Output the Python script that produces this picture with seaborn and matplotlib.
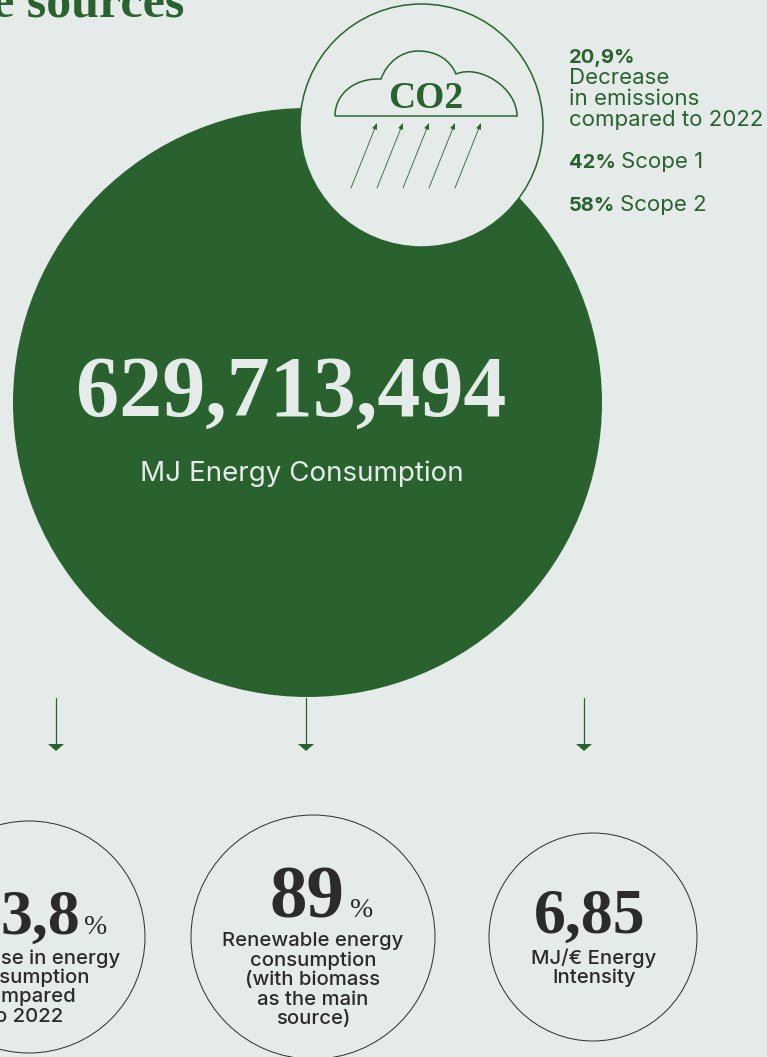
import matplotlib
matplotlib.use("Agg")
import matplotlib.pyplot as plt
import pandas as pd
import seaborn as sns
from matplotlib.patches import PathPatch
from matplotlib.path import Path

BG = "#E5EBE9"
GREEN = "#2A622F"
DARK = "#2B2B2B"
SANS = "Inter"
SERIF = "Liberation Serif"

# text content
TITLE = "e sources"
TOTAL_VALUE = "629,713,494"
TOTAL_LABEL = "MJ Energy Consumption"
ICON_LABEL = "CO2"
EMISSION_VALUE = "20,9%"
EMISSION_LINES = ["Decrease", "in emissions", "compared to 2022"]
SCOPE_SHARES = ["42%", "58%"]
SCOPE_NAMES = ["Scope 1", "Scope 2"]
METRIC_VALUES = ["3,8", "89", "6,85"]
METRIC_UNITS = ["%", "%", ""]
METRIC_LINES = [
    ["Decrease in energy", "consumption", "compared", "to 2022"],
    ["Renewable energy", "consumption", "(with biomass", "as the main", "source)"],
    ["MJ/€ Energy", "Intensity"],
]

# layout, in pixels of the 767x1057 canvas
filled = pd.DataFrame({"x": [307], "y": [401.5], "r": [294.5]})
outlined = pd.DataFrame({"x": [29, 313, 593], "y": [937, 937, 937], "r": [116, 122, 104]})
icon_circle = pd.DataFrame({"x": [420.5], "y": [125], "r": [121.5]})
ARROW_X = [56, 306, 584]
RAY_X = [351, 377, 403, 429, 455]
VALUE_RIGHT = [80, 344, 645]
VALUE_BASE = [934, 917, 933]
VALUE_SIZE = [46, 54, 46]
UNIT_LEFT = [84, 350, None]
TEXT_CENTER = [26, 313, 594]
LINE_BASES = [
    [964, 983, 1002, 1022],
    [946, 966, 985, 1005, 1024],
    [964, 983],
]


def marker_size(r):
    # scatter sizes are squared points, the radius is in pixels at dpi 100
    return (2 * r * 0.72) ** 2


def draw_circles(ax, df, face, edge, lw):
    sns.scatterplot(
        data=df, x="x", y="y", size="r", sizes={r: marker_size(r) for r in df["r"]},
        color=face, edgecolor=edge, linewidth=lw, legend=False, ax=ax, zorder=2,
    )


def draw_cloud(ax):
    verts = [
        (335, 116), (335, 95), (353, 78), (381, 79),
        (387, 62), (402, 51), (418, 51),
        (437, 51), (450, 60), (456, 74),
        (480, 64), (517, 88), (517, 116),
        (335, 116),
    ]
    codes = [Path.MOVETO] + [Path.CURVE4] * 12 + [Path.LINETO]
    ax.add_patch(PathPatch(Path(verts, codes), fill=False, edgecolor=GREEN, lw=1.1, zorder=4))
    for x in RAY_X:
        ax.annotate(
            "", xy=(x + 26, 123), xytext=(x, 188), zorder=4,
            arrowprops=dict(arrowstyle="-|>,head_length=0.3,head_width=0.12", color=GREEN,
                            lw=0.6, shrinkA=0, shrinkB=0),
        )


def draw_down_arrows(ax):
    for x in ARROW_X:
        ax.plot([x, x], [698, 744], color=GREEN, lw=0.9, zorder=3)
        ax.fill([x - 8, x + 8, x], [744, 744, 751], color=GREEN, lw=0, zorder=3)


def main():
    sns.set_theme(style="white")
    plt.rcParams["font.family"] = [SANS, "DejaVu Sans"]

    fig = plt.figure(figsize=(7.67, 10.57), dpi=100, facecolor=BG)
    ax = fig.add_axes([0, 0, 1, 1], facecolor=BG)

    draw_circles(ax, filled, GREEN, GREEN, 0)
    draw_circles(ax, icon_circle, BG, GREEN, 1.1)
    draw_circles(ax, outlined, "none", DARK, 0.7)
    draw_cloud(ax)
    draw_down_arrows(ax)

    ax.set_xlim(0, 767)
    ax.set_ylim(1057, 0)
    ax.axis("off")

    ax.text(184, 17, TITLE, ha="right", va="baseline", family=SERIF, weight="bold", fontsize=36, color=GREEN)
    ax.text(291, 416, TOTAL_VALUE, ha="center", va="baseline", family=SERIF, weight="bold", fontsize=62, color=BG, zorder=5)
    ax.text(302, 481, TOTAL_LABEL, ha="center", va="baseline", fontsize=20, color=BG, zorder=5)
    ax.text(426, 107.5, ICON_LABEL, ha="center", va="baseline", family=SERIF, weight="bold", fontsize=27, color=GREEN, zorder=5)

    ax.text(569, 63, EMISSION_VALUE, va="baseline", weight="bold", fontsize=14.5, color=GREEN)
    for line, y in zip(EMISSION_LINES, [84, 105, 126]):
        ax.text(569, y, line, va="baseline", fontsize=16, color=GREEN)
    for share, name, y, x in zip(SCOPE_SHARES, SCOPE_NAMES, [168, 211], [621, 620]):
        ax.text(569, y, share, va="baseline", weight="bold", fontsize=14.5, color=GREEN)
        ax.text(x, y, name, va="baseline", fontsize=16, color=GREEN)

    for i, value in enumerate(METRIC_VALUES):
        ax.text(VALUE_RIGHT[i], VALUE_BASE[i], value, ha="right", va="baseline", family=SERIF,
                weight="bold", fontsize=VALUE_SIZE[i], color=DARK)
        if METRIC_UNITS[i]:
            ax.text(UNIT_LEFT[i], VALUE_BASE[i], METRIC_UNITS[i], va="baseline", family=SERIF,
                    fontsize=20, color=DARK)
        for line, y in zip(METRIC_LINES[i], LINE_BASES[i]):
            ax.text(TEXT_CENTER[i], y, line, ha="center", va="baseline", fontsize=14.6, weight="medium", color=DARK)

    fig.savefig("out.png", dpi=100, facecolor=BG)


if __name__ == "__main__":
    main()
